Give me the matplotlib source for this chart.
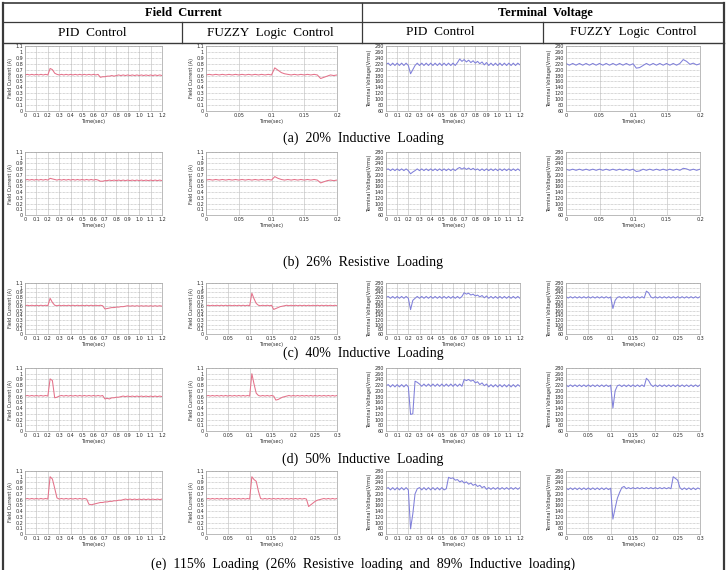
import numpy as np
import matplotlib
matplotlib.use("Agg")
import matplotlib.pyplot as plt

# ---------------- data ----------------
t_pid = np.arange(0, 1.2001, 0.02)      # 61 samples, PID runs
t_fz2 = np.arange(0, 0.2001, 0.005)     # 41 samples, fuzzy runs (a, b)
t_fz3 = np.arange(0, 0.3001, 0.005)     # 61 samples, fuzzy runs (c, d, e)

pid_xticks = [0, 0.1, 0.2, 0.3, 0.4, 0.5, 0.6, 0.7, 0.8, 0.9, 1.0, 1.1, 1.2]
pid_xlabels = ["0", "0.1", "0.2", "0.3", "0.4", "0.5", "0.6", "0.7", "0.8", "0.9", "1.0", "1.1", "1.2"]
fz2_xticks = [0, 0.05, 0.1, 0.15, 0.2]
fz2_xlabels = ["0", "0.05", "0.1", "0.15", "0.2"]
fz3_xticks = [0, 0.05, 0.1, 0.15, 0.2, 0.25, 0.3]
fz3_xlabels = ["0", "0.05", "0.1", "0.15", "0.2", "0.25", "0.3"]
i_yticks = [0, 0.1, 0.2, 0.3, 0.4, 0.5, 0.6, 0.7, 0.8, 0.9, 1.0, 1.1]
i_ylabels = ["0", "0.1", "0.2", "0.3", "0.4", "0.5", "0.6", "0.7", "0.8", "0.9", "1", "1.1"]
v_yticks = [60, 80, 100, 120, 140, 160, 180, 200, 220, 240, 260, 280]

# (a) 20% inductive
a_pid_i = [0.61, 0.62, 0.61, 0.62, 0.61, 0.62, 0.61, 0.62, 0.61, 0.62, 0.61,
           0.72, 0.70, 0.64, 0.62,
           0.61, 0.62, 0.61, 0.62, 0.61, 0.62, 0.61, 0.62, 0.61, 0.62, 0.61, 0.62, 0.61, 0.62, 0.61, 0.62, 0.61, 0.62,
           0.57, 0.58, 0.58, 0.59, 0.59, 0.60, 0.59, 0.60,
           0.61, 0.60, 0.61, 0.60, 0.61, 0.60, 0.61, 0.60, 0.61, 0.60, 0.61, 0.60, 0.61, 0.60, 0.61, 0.60, 0.61, 0.60, 0.61, 0.60]
a_pid_v = [218, 222, 214, 222, 214, 222, 214, 222, 214, 222, 214,
           186, 200, 214,
           222, 214, 222, 214, 222, 214, 222, 214, 222, 214, 222, 214, 222, 214, 222, 214, 222, 214,
           224, 236, 228, 234, 226, 232, 224, 230, 222, 228, 220, 226, 216, 224,
           214, 222, 214, 222, 214, 222, 214, 222, 214, 222, 214, 222, 214, 222, 216]
a_fz_i = [0.61, 0.62, 0.61, 0.62, 0.61, 0.62, 0.61, 0.62, 0.61, 0.62, 0.61, 0.62, 0.61, 0.62, 0.61, 0.62, 0.61, 0.62, 0.61, 0.62, 0.61,
          0.73, 0.69, 0.65, 0.63,
          0.62, 0.61, 0.62, 0.61, 0.62, 0.61, 0.62, 0.61, 0.62, 0.61,
          0.55, 0.57, 0.59, 0.61, 0.60, 0.61]
a_fz_v = [221, 215, 221, 215, 221, 215, 221, 215, 221, 215, 221, 215, 221, 215, 221, 215, 221, 215, 221, 215, 220,
          205, 207, 214,
          221, 215, 221, 215, 221, 215, 221, 215, 221, 215, 221,
          234, 228, 218,
          222, 216, 220]

# (b) 26% resistive
b_pid_i = [0.61, 0.62, 0.61, 0.62, 0.61, 0.62, 0.61, 0.62, 0.61, 0.62, 0.61,
           0.64, 0.63, 0.62,
           0.61, 0.62, 0.61, 0.62, 0.61, 0.62, 0.61, 0.62, 0.61, 0.62, 0.61, 0.62, 0.61, 0.62, 0.61, 0.62, 0.61, 0.62, 0.61,
           0.59, 0.59, 0.60, 0.60,
           0.61, 0.60, 0.61, 0.60, 0.61, 0.60, 0.61, 0.60, 0.61, 0.60, 0.61, 0.60,
           0.61, 0.60, 0.61, 0.60, 0.61, 0.60, 0.61, 0.60, 0.61, 0.60, 0.61, 0.60]
b_pid_v = [218, 221, 215, 221, 215, 221, 215, 221, 215, 221, 215,
           204, 210, 215,
           221, 215, 221, 215, 221, 215, 221, 215, 221, 215, 221, 215, 221, 215, 221, 215, 221, 215,
           222, 226, 220, 225, 219, 224, 218, 223, 217,
           221, 215, 221, 215, 221, 215, 221, 215, 221, 215, 221, 215, 221, 215, 221, 215, 221, 215, 221, 215]
b_fz_i = [0.61, 0.62, 0.61, 0.62, 0.61, 0.62, 0.61, 0.62, 0.61, 0.62, 0.61, 0.62, 0.61, 0.62, 0.61, 0.62, 0.61, 0.62, 0.61, 0.62, 0.61,
          0.67, 0.64, 0.62,
          0.61, 0.62, 0.61, 0.62, 0.61, 0.62, 0.61, 0.62, 0.61, 0.62, 0.61,
          0.56, 0.58, 0.60,
          0.61, 0.60, 0.61]
b_fz_v = [220, 216, 220, 216, 220, 216, 220, 216, 220, 216, 220, 216, 220, 216, 220, 216, 220, 216, 220, 216, 220,
          212, 214,
          220, 216, 220, 216, 220, 216, 220, 216, 220, 216, 220, 216,
          223, 221,
          216, 220, 216, 220]

# (c) 40% inductive
c_pid_i = [0.61, 0.62, 0.61, 0.62, 0.61, 0.62, 0.61, 0.62, 0.61, 0.62, 0.61,
           0.77, 0.68, 0.62,
           0.61, 0.62, 0.61, 0.62, 0.61, 0.62, 0.61, 0.62, 0.61, 0.62, 0.61, 0.62, 0.61, 0.62, 0.61, 0.62, 0.61, 0.62, 0.61, 0.62, 0.61,
           0.54, 0.55, 0.56, 0.57, 0.57, 0.58, 0.58, 0.59, 0.59, 0.60,
           0.61, 0.60, 0.61, 0.60, 0.61, 0.60, 0.61, 0.60, 0.61, 0.60, 0.61, 0.60, 0.61, 0.60, 0.61, 0.60]
c_pid_v = [218, 222, 214, 222, 214, 222, 214, 222, 214, 222, 214,
           165, 205, 214,
           222, 214, 222, 214, 222, 214, 222, 214, 222, 214, 222, 214, 222, 214, 222, 214, 222, 214, 222, 214, 222,
           238, 232, 236, 228, 232, 224, 228, 220, 226, 216, 224, 214,
           222, 214, 222, 214, 222, 214, 222, 214, 222, 214, 222, 214, 222, 214]
c_fz_i = [0.61, 0.62, 0.61, 0.62, 0.61, 0.62, 0.61, 0.62, 0.61, 0.62, 0.61, 0.62, 0.61, 0.62, 0.61, 0.62, 0.61, 0.62, 0.61, 0.62, 0.61,
          0.88, 0.76, 0.66, 0.62,
          0.61, 0.62, 0.61, 0.62, 0.61, 0.62,
          0.53, 0.55, 0.57, 0.59, 0.60,
          0.61, 0.62, 0.61, 0.62, 0.61, 0.62, 0.61, 0.62, 0.61, 0.62, 0.61, 0.62, 0.61, 0.62, 0.61, 0.62, 0.61, 0.62, 0.61, 0.62, 0.61, 0.62,
          0.61, 0.62, 0.61]
c_fz_v = [221, 215, 221, 215, 221, 215, 221, 215, 221, 215, 221, 215, 221, 215, 221, 215, 221, 215, 221, 215, 220,
          170, 205, 218,
          221, 215, 221, 215, 221, 215, 221, 215, 221, 215, 221, 215,
          245, 238, 220,
          215, 221, 215, 221, 215, 221, 215, 221, 215, 221, 215, 221, 215, 221, 215, 221, 215, 221, 215, 221, 215, 221]

# (d) 50% inductive
d_pid_i = [0.61, 0.62, 0.61, 0.62, 0.61, 0.62, 0.61, 0.62, 0.61, 0.62, 0.61,
           0.91, 0.88, 0.58, 0.59,
           0.61, 0.62, 0.61, 0.62, 0.61, 0.62, 0.61, 0.62, 0.61, 0.62, 0.61, 0.62, 0.61, 0.62, 0.61, 0.62, 0.61, 0.62, 0.61, 0.62,
           0.56, 0.57, 0.56, 0.58, 0.58, 0.59, 0.59, 0.60,
           0.61, 0.60, 0.61, 0.60, 0.61, 0.60, 0.61, 0.60, 0.61, 0.60, 0.61, 0.60, 0.61, 0.60, 0.61, 0.60, 0.61, 0.60]
d_pid_v = [218, 222, 214, 222, 214, 222, 214, 222, 214, 222, 214,
           118, 120, 234, 230, 224,
           216, 224, 216, 224, 216, 224, 216, 224, 216, 224, 216, 224, 216, 224, 216, 224, 216, 224, 216,
           240, 236, 240, 234, 238, 228, 232, 222, 228, 218, 224,
           214, 222, 214, 222, 214, 222, 214, 222, 214, 222, 214, 222, 214, 222, 216]
d_fz_i = [0.61, 0.62, 0.61, 0.62, 0.61, 0.62, 0.61, 0.62, 0.61, 0.62, 0.61, 0.62, 0.61, 0.62, 0.61, 0.62, 0.61, 0.62, 0.61, 0.62, 0.61,
          1.00, 0.82, 0.66, 0.62,
          0.61, 0.62, 0.61, 0.62, 0.61, 0.62, 0.61,
          0.54, 0.55, 0.57, 0.59, 0.60,
          0.61, 0.62, 0.61, 0.62, 0.61, 0.62, 0.61, 0.62, 0.61, 0.62, 0.61, 0.62, 0.61, 0.62, 0.61, 0.62, 0.61, 0.62, 0.61, 0.62, 0.61, 0.62,
          0.61, 0.62]
d_fz_v = [221, 215, 221, 215, 221, 215, 221, 215, 221, 215, 221, 215, 221, 215, 221, 215, 221, 215, 221, 215, 220,
          140, 200, 218,
          221, 215, 221, 215, 221, 215, 221, 215, 221, 215, 221, 215,
          244, 236, 222,
          215, 221, 215, 221, 215, 221, 215, 221, 215, 221, 215, 221, 215, 221, 215, 221, 215, 221, 215, 221, 215, 221]

# (e) 115% loading
e_pid_i = [0.61, 0.62, 0.61, 0.62, 0.61, 0.62, 0.61, 0.62, 0.61, 0.62, 0.61,
           1.00, 0.96, 0.80, 0.63,
           0.61, 0.62, 0.61, 0.62, 0.61, 0.62, 0.61, 0.62, 0.61, 0.62, 0.61, 0.62, 0.61,
           0.52, 0.51, 0.52, 0.53, 0.54, 0.55, 0.55, 0.56, 0.56, 0.57, 0.57, 0.58, 0.58, 0.59, 0.59, 0.60,
           0.61, 0.60, 0.61, 0.60, 0.61, 0.60, 0.61, 0.60, 0.61, 0.60, 0.61, 0.60, 0.61, 0.60, 0.61, 0.60, 0.61]
e_pid_v = [218, 222, 214, 222, 214, 222, 214, 222, 214, 222, 214,
           78, 130, 200, 218,
           222, 214, 222, 214, 222, 214, 222, 214, 222, 214, 222, 214,
           218, 258, 254, 256, 248, 250, 242, 246, 238, 242, 234, 238, 230, 234, 226, 230, 222, 226,
           216, 222, 216, 222, 216, 222, 216, 222, 216, 222, 216, 222, 216, 222, 216, 222]
e_fz_i = [0.61, 0.62, 0.61, 0.62, 0.61, 0.62, 0.61, 0.62, 0.61, 0.62, 0.61, 0.62, 0.61, 0.62, 0.61, 0.62, 0.61, 0.62, 0.61, 0.62, 0.61,
          1.00, 0.95, 0.92, 0.75, 0.62,
          0.61, 0.62, 0.61, 0.62, 0.61, 0.62, 0.61, 0.62, 0.61, 0.62, 0.61, 0.62, 0.61, 0.62, 0.61, 0.62, 0.61, 0.62, 0.61, 0.62, 0.61,
          0.48, 0.51, 0.54, 0.57, 0.59, 0.60,
          0.61, 0.62, 0.61, 0.62, 0.61, 0.62, 0.61, 0.62]
e_fz_v = [221, 215, 221, 215, 221, 215, 221, 215, 221, 215, 221, 215, 221, 215, 221, 215, 221, 215, 221, 215, 220,
          112, 150, 185, 205, 222, 226,
          218, 222, 218, 222, 218, 222, 218, 222, 218, 222, 218, 222, 218, 222, 218, 222, 218, 222, 218, 222, 218,
          260, 254, 248, 222,
          215, 221, 215, 221, 215, 221, 215, 221, 217]

captions = ["(a)  20%  Inductive  Loading",
            "(b)  26%  Resistive  Loading",
            "(c)  40%  Inductive  Loading",
            "(d)  50%  Inductive  Loading",
            "(e)  115%  Loading  (26%  Resistive  loading  and  89%  Inductive  loading)"]

rows = [
    (a_pid_i, a_fz_i, a_pid_v, a_fz_v, "fz2"),
    (b_pid_i, b_fz_i, b_pid_v, b_fz_v, "fz2"),
    (c_pid_i, c_fz_i, c_pid_v, c_fz_v, "fz3"),
    (d_pid_i, d_fz_i, d_pid_v, d_fz_v, "fz3"),
    (e_pid_i, e_fz_i, e_pid_v, e_fz_v, "fz3"),
]

# ---------------- layout (pixels) ----------------
W, H = 727, 570
col_x = [(25, 162), (206, 337), (386, 520), (566, 700)]
row_y = [(46, 111), (152, 215), (283, 334), (368, 431), (471, 534)]
cap_y = [138, 262, 353, 459, 564]

I_COLOR = "#e4728a"
V_COLOR = "#8080da"
SERIF = "Liberation Serif"

fig = plt.figure(figsize=(W / 100, H / 100), dpi=100)
bg = fig.add_axes([0, 0, 1, 1], zorder=-5)
bg.set_xlim(0, W)
bg.set_ylim(H, 0)
bg.axis("off")

lc = "#3a3a3a"
bg.plot([3, 724], [3, 3], color=lc, lw=1.2)
bg.plot([3, 724], [22, 22], color=lc, lw=0.9)
bg.plot([3, 724], [43, 43], color=lc, lw=1.0)
bg.plot([3, 3], [3, 570], color=lc, lw=1.6)
bg.plot([724, 724], [3, 570], color=lc, lw=1.6)
bg.plot([362, 362], [3, 43], color=lc, lw=0.9)
bg.plot([182, 182], [22, 43], color=lc, lw=0.9)
bg.plot([543, 543], [22, 43], color=lc, lw=0.9)

bg.text(183, 13, "Field  Current", family=SERIF, weight="bold", fontsize=9, ha="center", va="center")
bg.text(545, 13, "Terminal  Voltage", family=SERIF, weight="bold", fontsize=9, ha="center", va="center")
bg.text(92, 33, "PID  Control", family=SERIF, fontsize=9.5, ha="center", va="center")
bg.text(270, 33, "FUZZY  Logic  Control", family=SERIF, fontsize=9.5, ha="center", va="center")
bg.text(440, 32, "PID  Control", family=SERIF, fontsize=9.5, ha="center", va="center")
bg.text(633, 32, "FUZZY  Logic  Control", family=SERIF, fontsize=9.5, ha="center", va="center")

for cy, cap in zip(cap_y, captions):
    bg.text(363, cy, cap, family=SERIF, fontsize=10, ha="center", va="center")


def style(ax, xticks, xlabels, yticks, ylabels, xlim, ylim, ylabel):
    ax.set_xlim(*xlim)
    ax.set_ylim(*ylim)
    ax.set_xticks(xticks)
    ax.set_xticklabels(xlabels)
    ax.set_yticks(yticks)
    ax.set_yticklabels(ylabels)
    ax.tick_params(length=0, labelsize=3.5, pad=1.5, colors="#2a2a2a")
    for s in ax.spines.values():
        s.set_color("#a0a0a0")
        s.set_linewidth(0.5)
    ax.xaxis.grid(True, color="#c8c8c8", lw=0.5, ls="-")
    ax.yaxis.grid(True, color="#b0b0b0", lw=0.5, ls=(0, (1, 1)))
    ax.set_axisbelow(True)
    ax.set_xlabel("Time(sec)", fontsize=3.5, labelpad=1, color="#2a2a2a")
    ax.set_ylabel(ylabel, fontsize=3.5, labelpad=1.5, color="#2a2a2a")


for r, (pid_i, fz_i, pid_v, fz_v, fzkind) in enumerate(rows):
    y0, y1 = row_y[r]
    t_fz = t_fz2 if fzkind == "fz2" else t_fz3
    fz_ticks = fz2_xticks if fzkind == "fz2" else fz3_xticks
    fz_labels = fz2_xlabels if fzkind == "fz2" else fz3_xlabels
    fz_max = 0.2 if fzkind == "fz2" else 0.3
    series = [
        (t_pid, pid_i, I_COLOR, pid_xticks, pid_xlabels, (0, 1.2), "I"),
        (t_fz, fz_i, I_COLOR, fz_ticks, fz_labels, (0, fz_max), "I"),
        (t_pid, pid_v, V_COLOR, pid_xticks, pid_xlabels, (0, 1.2), "V"),
        (t_fz, fz_v, V_COLOR, fz_ticks, fz_labels, (0, fz_max), "V"),
    ]
    for c, (tt, vals, colr, xt, xl, xlim, kind) in enumerate(series):
        x0, x1 = col_x[c]
        ax = fig.add_axes([x0 / W, 1 - y1 / H, (x1 - x0) / W, (y1 - y0) / H])
        ax.plot(tt, vals, color=colr, lw=0.75)
        if kind == "I":
            style(ax, xt, xl, i_yticks, i_ylabels, xlim, (0, 1.1), "Field Current (A)")
        else:
            style(ax, xt, xl, v_yticks, [str(v) for v in v_yticks], xlim, (60, 280),
                  "Terminal Voltage(Vrms)")

fig.savefig("out.png", dpi=100)
